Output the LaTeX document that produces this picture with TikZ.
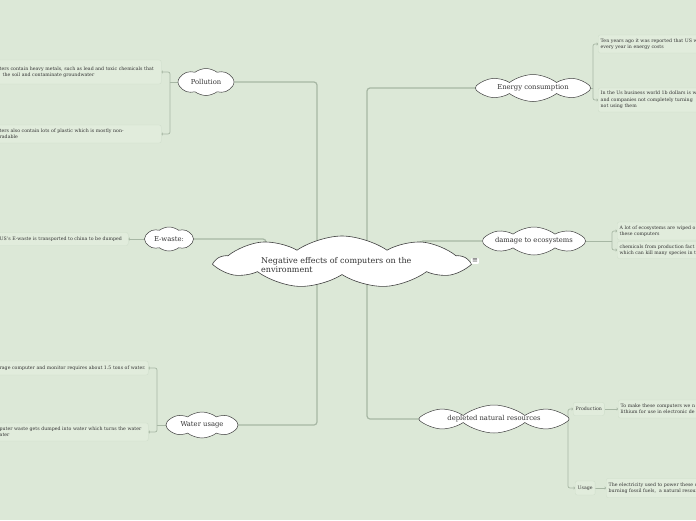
\documentclass[tikz,border=0pt]{standalone}
\usepackage{fontspec}
\setmainfont{DejaVu Serif}
\newfontfamily\iconfont{DejaVu Sans}
\usetikzlibrary{shapes.symbols,arrows.meta}
\definecolor{mapbg}{HTML}{DCE8D7}
\definecolor{linkgray}{HTML}{A7B7A4}
\definecolor{leaffill}{HTML}{E1ECDC}
\definecolor{leafline}{HTML}{D0DFCC}
\definecolor{ink}{HTML}{333333}
\pgfdeclarelayer{bg}
\pgfsetlayers{bg,main}

\tikzset{
  maincloud/.style={cloud, cloud puffs=9, cloud puff arc=70, cloud ignores aspect,
    draw=black!75, fill=white, line width=0.6pt, inner sep=0pt},
  maintext/.style={align=left, inner sep=0pt, text=ink, font=\fontsize{8}{9.8}\selectfont},
  topic/.style={cloud, cloud puffs=8, cloud puff arc=75, cloud ignores aspect,
    draw=black!75, fill=white, line width=0.5pt, inner sep=0pt, text=ink,
    font=\fontsize{6.8}{7}\selectfont},
  leaf/.style={rectangle, rounded corners=2pt, fill=leaffill, draw=leafline, line width=0.4pt,
    align=left, inner sep=2.5pt, text=ink, font=\fontsize{4.7}{6.3}\selectfont},
  link/.style={draw=linkgray, line width=1.2pt, rounded corners=3pt},
  sublink/.style={draw=linkgray, line width=0.7pt, rounded corners=2pt},
  tip/.style={-{To[length=1.6pt,width=3pt]}},
}

\begin{document}
\begin{tikzpicture}[x=1pt, y=-1pt]

  \begin{pgfonlayer}{bg}
    \fill[mapbg] (0,0) rectangle (696,520);
  \end{pgfonlayer}
  \useasboundingbox (0,0) rectangle (696,520);
  \clip (0,0) rectangle (696,520);

  % ---- central idea ----
  \node[maincloud, minimum width=250pt, minimum height=52pt] (main) at (342,262) {};
  \node[maintext, anchor=west] (mainlabel) at (261,265)
    {Negative effects of computers on the\\environment};
  \node[fill=white, rounded corners=1pt, inner sep=1pt, text=black!70,
    font=\iconfont\fontsize{7}{7}\selectfont] (menu) at (475,261) {≡};

  % ---- main topics ----
  \node[topic, minimum width=56pt, minimum height=27pt] (pol) at (206,82) {Pollution};
  \node[topic, minimum width=49pt, minimum height=24pt] (ewaste) at (169,239) {E-waste:};
  \node[topic, minimum width=72pt, minimum height=26pt] (water) at (202,425) {Water usage};
  \node[topic, minimum width=115pt, minimum height=27pt] (energy) at (533,88) {Energy consumption};
  \node[topic, minimum width=96pt, minimum height=28pt] (damage) at (534,241) {damage to ecosystems};
  \node[topic, minimum width=150pt, minimum height=28pt] (deplete) at (494,419) {depleted natural resources};

  % ---- left leaves ----
  \node[leaf, anchor=west, text width=159pt, minimum height=24pt] (pol1) at (-3,72)
    {ters contain heavy metals, such as lead and toxic chemicals that\\\hspace{3pt}the soil and contaminate groundwater};
  \node[leaf, anchor=west, text width=159pt, minimum height=18pt] (pol2) at (-3,134)
    {ters also contain lots of plastic which is mostly non-\\radable};
  \node[leaf, anchor=west, text width=126pt, minimum height=13pt] (ew1) at (-3,239)
    {US’s E-waste is transported to china to be dumped};
  \node[leaf, anchor=west, text width=146pt, minimum height=14pt] (wat1) at (-3,368)
    {\mbox{rage computer and monitor requires about 1.5 tons of water.}};
  \node[leaf, anchor=west, text width=146pt, minimum height=18pt] (wat2) at (-3,432)
    {puter waste gets dumped into water which turns the water\\ater};

  % ---- right leaves ----
  \node[leaf, anchor=west, text width=110pt, minimum height=18pt] (en1) at (598,44)
    {Ten years ago it was reported that US w\\every year in energy costs};
  \node[leaf, anchor=west, text width=110pt, minimum height=24pt] (en2) at (598,100)
    {In the Us business world 1b dollars is w\\and companies not completely turning\\not using them};
  \node[leaf, anchor=west, text width=90pt, minimum height=18pt] (dam1) at (617,231)
    {A lot of ecosystems are wiped o\\these computers};
  \node[leaf, anchor=west, text width=90pt, minimum height=17pt] (dam2) at (617,250)
    {chemicals from production fact\\which can kill many species in t};
  \node[leaf, anchor=west, minimum height=13pt] (prod) at (573,409) {Production};
  \node[leaf, anchor=west, text width=90pt, minimum height=18pt] (prodtxt) at (618,409)
    {To make these computers we n\\lithium for use in electronic de};
  \node[leaf, anchor=west, minimum height=14pt] (usage) at (575,488) {Usage};
  \node[leaf, anchor=west, text width=100pt, minimum height=19pt] (usetxt) at (606,488)
    {The electricity used to power these c\\burning fossil fuels,\ \ a natural resour};

  % ---- connectors (behind the clouds) ----
  \coordinate (mainL) at (317,262);
  \coordinate (mainE) at (266,262);
  \coordinate (mainR) at (367,262);
  \coordinate (mainD) at (420,262);
  \coordinate (polfork) at (170,82);
  \coordinate (watfork) at (157,425);
  \coordinate (enfork) at (593,88);
  \coordinate (damfork) at (612,241);
  \coordinate (depfork) at (568,419);

  \begin{pgfonlayer}{bg}
    \draw[link] (pol.east) -| (mainL);
    \draw[link] (water.east) -| (mainL);
    \draw[link] (ewaste.east) -| (mainE);
    \draw[link] (mainR) |- (energy.west);
    \draw[link] (mainR) |- (deplete.west);
    \draw[link] (mainD) |- (damage.west);

    \draw[sublink] (pol.west) -- (polfork);
    \draw[sublink, tip] (polfork) |- (pol1.east);
    \draw[sublink, tip] (polfork) |- (pol2.east);
    \draw[sublink, tip] (ewaste.west) -- (ew1.east);
    \draw[sublink] (water.west) -- (watfork);
    \draw[sublink, tip] (watfork) |- (wat1.east);
    \draw[sublink, tip] (watfork) |- (wat2.east);

    \draw[sublink] (energy.east) -- (enfork);
    \draw[sublink, tip] (enfork) |- (en1.west);
    \draw[sublink, tip] (enfork) |- (en2.west);
    \draw[sublink] (damage.east) -- (damfork);
    \draw[sublink, tip] (damfork) |- (dam1.west);
    \draw[sublink, tip] (damfork) |- (dam2.west);
    \draw[sublink] (deplete.east) -- (depfork);
    \draw[sublink, tip] (depfork) |- (prod.west);
    \draw[sublink, tip] (depfork) |- (usage.west);
    \draw[sublink, tip] (prod.east) -- (prodtxt.west);
    \draw[sublink, tip] (usage.east) -- (usetxt.west);
  \end{pgfonlayer}

\end{tikzpicture}
\end{document}
